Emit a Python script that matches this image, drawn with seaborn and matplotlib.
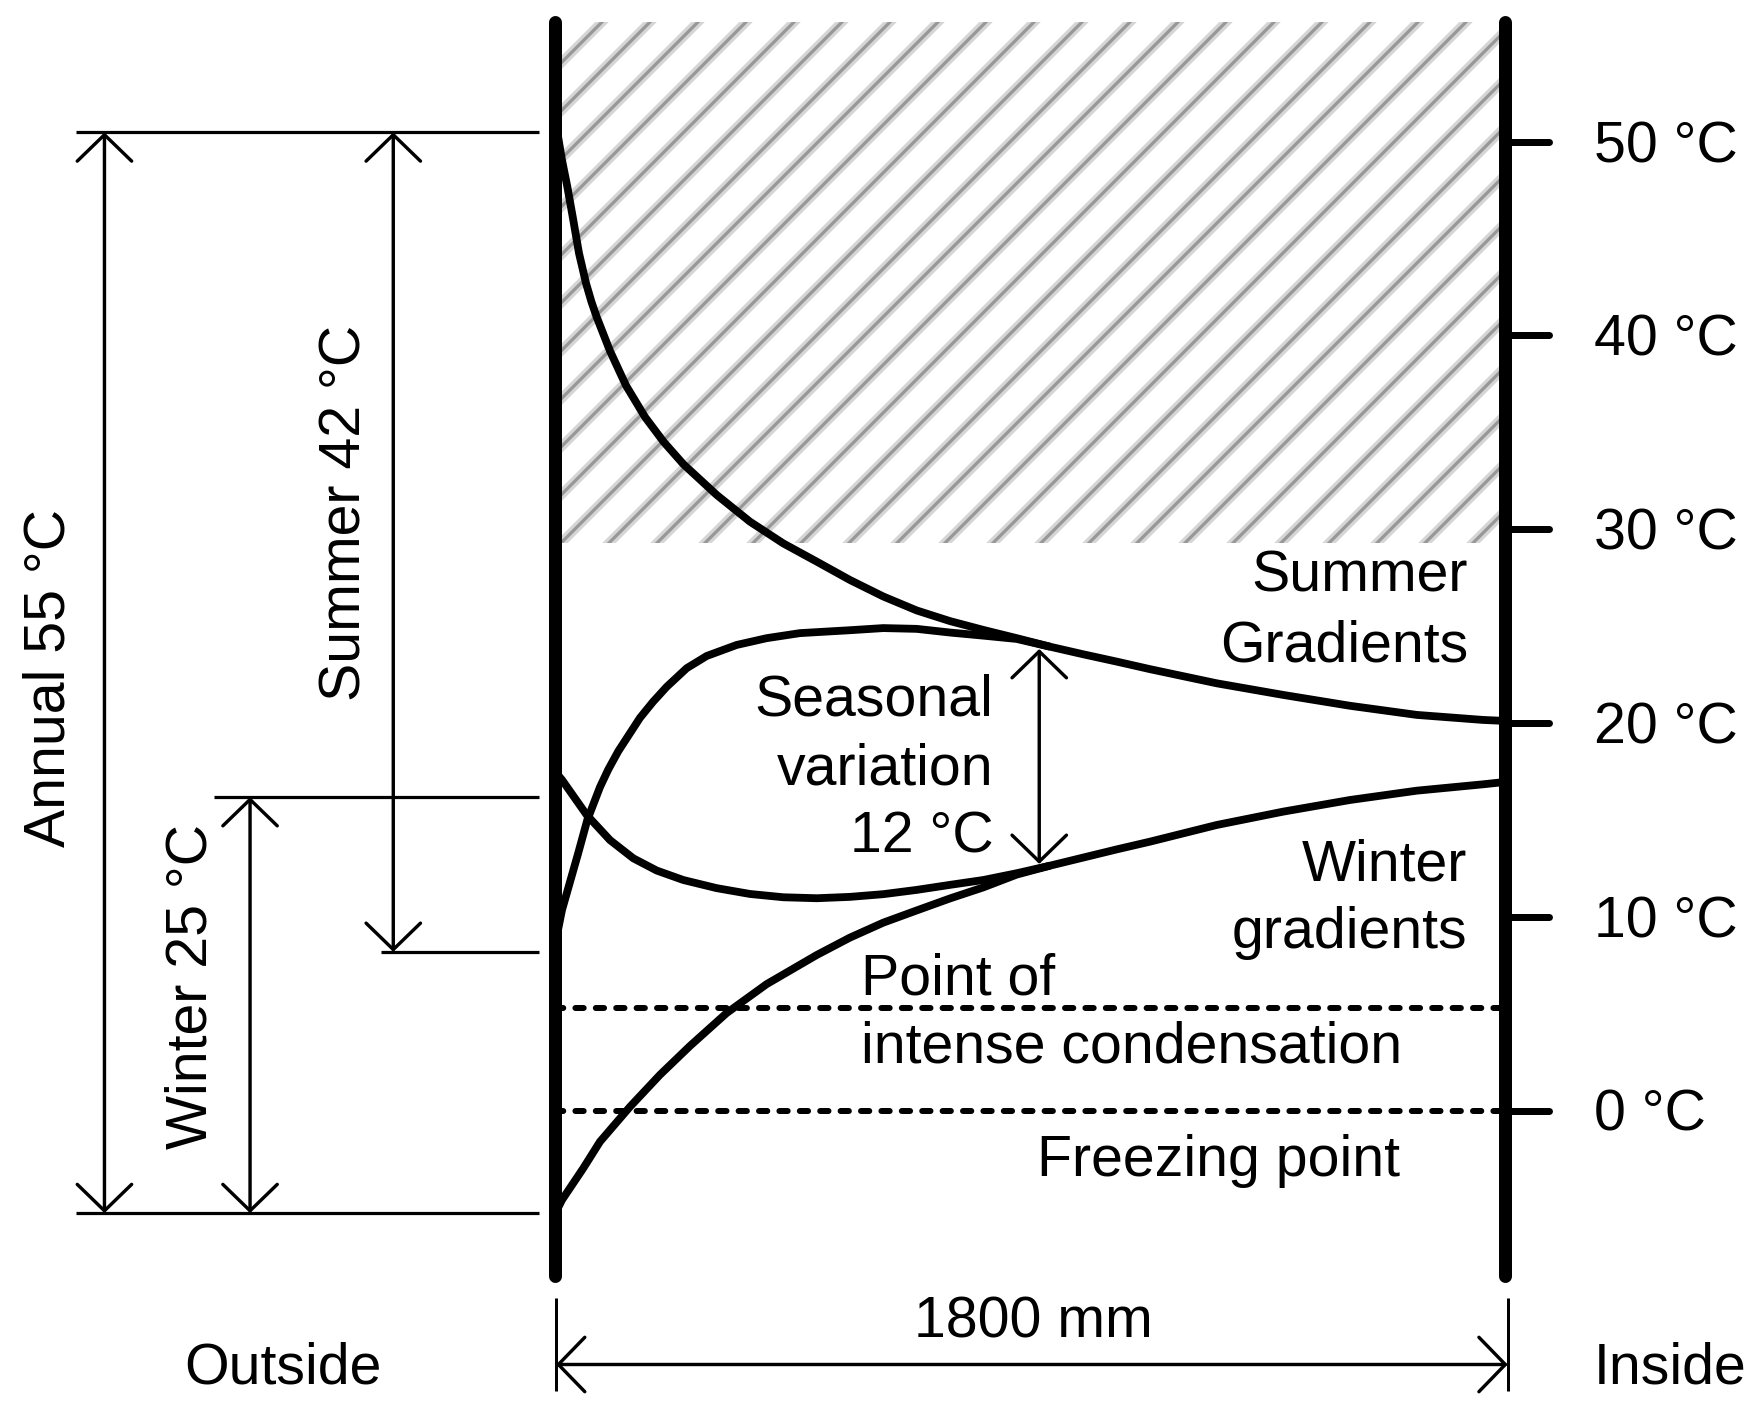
#!/usr/bin/env python3

import matplotlib
matplotlib.use("Agg")
import matplotlib.pyplot as plt
import pandas as pd
import seaborn as sns

sns.set_theme(style="white")
plt.rcParams["font.family"] = ["Liberation Sans", "DejaVu Sans"]
plt.rcParams["text.color"] = "black"

# wall distance in mm, temperature in degC
SUMMER_OUT_X = [2.8, 12.3, 22.4, 33.7, 44.5, 57.8, 68, 78.1, 103.3, 133.6, 169.7, 205, 242.3, 305.6, 368.7, 431.8,
                495.2, 558.3, 621.4, 684.7, 747.9, 810.4, 874.3, 937.4, 1000, 1063.9, 1127, 1253.5, 1379.7,
                1506.2, 1632.6, 1758.3, 1800]
SUMMER_OUT_T = [50.60, 49.05, 47.68, 45.96, 44.25, 42.70, 41.75, 40.95, 39.20, 37.42, 35.79, 34.51, 33.36, 31.77, 30.39, 29.27,
                28.33, 27.38, 26.53, 25.81, 25.26, 24.81, 24.38, 23.94, 23.55, 23.17, 22.78, 22.05, 21.45,
                20.89, 20.42, 20.16, 20.11]

SUMMER_IN_X = [1, 12.3, 43.2, 60.3, 84.4, 100, 119.1, 160.2, 185, 210.8, 248.7, 286.6, 343.5, 400.4, 463.5, 558.3,
               621.4, 684.7, 747.9, 811, 874.3, 937.4]
SUMMER_IN_T = [8.81, 10.35, 13.30, 15.00, 16.70, 17.60, 18.55, 20.27, 21.10, 21.87, 22.83, 23.46, 24.03, 24.38, 24.64, 24.79,
               24.90, 24.86, 24.67, 24.51, 24.34, 23.94]

WINTER_OUT_X = [0, 12.3, 59.1, 103.3, 147.5, 191.8, 242.3, 305.6, 368.7, 431.8, 495.2, 558.3, 621.4, 684.7,
                747.9, 811, 874.3, 937.4, 1000.6, 1063.9, 1127, 1253.5, 1379.7, 1506.2, 1632.6, 1758.9, 1800]
WINTER_OUT_T = [17.47, 17.07, 15.26, 13.96, 13.02, 12.39, 11.90, 11.48, 11.18, 11.01, 10.96, 11.03, 11.17, 11.39,
                11.65, 11.90, 12.25, 12.64, 13.06, 13.48, 13.88, 14.74, 15.43, 16.03, 16.51, 16.84, 16.96]

WINTER_IN_X = [0, 12.3, 52.7, 84.4, 141.2, 198.1, 255, 324.6, 400.4, 495.2, 558.3, 621.4, 684.7, 747.9, 811,
               874.3, 937.4]
WINTER_IN_T = [-5.28, -4.61, -2.97, -1.60, 0.20, 1.85, 3.34, 5.04, 6.53, 8.03, 8.93, 9.70, 10.33, 10.95, 11.52,
               12.18, 12.64]

TICK_TEMPS = [50, 40, 30, 20, 10, 0]
TICK_LABELS = ["50 °C", "40 °C", "30 °C", "20 °C", "10 °C", "0 °C"]
DOTTED_TEMPS = [5.32, 0]
WALLS_MM = [0, 1800]

# extent line levels: temperature, left end
EXTENT_T = [50.48, 16.18, 8.19, -5.29]
EXTENT_X = [-908, -647, -330, -908]


def load_curves():
    frames = []
    for name, xs, ts in [
        ("summer_out", SUMMER_OUT_X, SUMMER_OUT_T),
        ("summer_in", SUMMER_IN_X, SUMMER_IN_T),
        ("winter_out", WINTER_OUT_X, WINTER_OUT_T),
        ("winter_in", WINTER_IN_X, WINTER_IN_T),
    ]:
        frames.append(pd.DataFrame({"curve": name, "mm": xs, "temp": ts}))
    return pd.concat(frames, ignore_index=True)


def dim_arrow(ax, start, end):
    ax.annotate(
        "", xy=end, xytext=start,
        arrowprops=dict(arrowstyle="<->,head_length=6.6,head_width=6.8", color="black", lw=0.85,
                        shrinkA=0, shrinkB=0, mutation_scale=1),
    )


def main():
    fig = plt.figure(figsize=(1753 / 288, 1405 / 288), dpi=288)
    ax = fig.add_axes([0, 0, 1, 1])

    # hatch tile is one inch at 288 dpi, "//" gives the 48 px stripe spacing
    plt.rcParams["hatch.linewidth"] = 2.4
    ax.fill_between([0, 1796], 29.29, 56.15, facecolor="white", edgecolor="#d6d6d6", hatch="//", linewidth=0)
    plt.rcParams["hatch.linewidth"] = 0.8
    ax.fill_between([0, 1796], 29.29, 56.15, facecolor="none", edgecolor="#989898", hatch="//", linewidth=0)

    sns.lineplot(data=load_curves(), x="mm", y="temp", units="curve", estimator=None, sort=False,
                 color="black", lw=1.95, solid_joinstyle="round", solid_capstyle="butt", ax=ax)

    ax.hlines(DOTTED_TEMPS, 0, 1800, color="black", lw=1.5, linestyles=[(0, (1.38, 2.02))], capstyle="round")
    ax.vlines(WALLS_MM, -8.52, 56.15, color="black", lw=3.25, capstyle="round", zorder=4)
    ax.hlines(TICK_TEMPS, 1800, 1884, color="black", lw=1.75, capstyle="round")

    # dimension extent lines
    ax.hlines(EXTENT_T, EXTENT_X, -31, color="black", lw=0.8)
    ax.vlines([1, 1805], -14.47, -9.66, color="black", lw=0.75)

    dim_arrow(ax, (-855, 50.48), (-855, -5.29))
    dim_arrow(ax, (-307.5, 50.48), (-307.5, 8.19))
    dim_arrow(ax, (-579, 16.18), (-579, -5.29))
    dim_arrow(ax, (917, 23.82), (917, 12.73))
    dim_arrow(ax, (1, -13.1), (1805, -13.1))

    fs = 14.3
    for t, lab in zip(TICK_TEMPS, TICK_LABELS):
        ax.text(1968, t - 1.05, lab, fontsize=fs, ha="left", va="baseline")

    for x, y, s, ha in [
        (1730, 26.8, "Summer", "right"),
        (1730, 23.2, "Gradients", "right"),
        (830.6, 20.37, "Seasonal", "right"),
        (830.6, 16.83, "variation", "right"),
        (830.6, 13.3, "12 °C", "right"),
        (1727.6, 11.9, "Winter", "right"),
        (1727.6, 8.37, "gradients", "right"),
        (580, 6.0, "Point of", "left"),
        (580, 2.47, "intense condensation", "left"),
        (1600, -3.38, "Freezing point", "right"),
        (905, -11.7, "1800 mm", "center"),
        (-517, -14.07, "Outside", "center"),
        (1968, -14.07, "Inside", "left"),
    ]:
        ax.text(x, y, s, fontsize=fs, ha=ha, va="baseline")

    for x, y, s in [
        (-960, 22.3, "Annual 55 °C"),
        (-399, 30.82, "Summer 42 °C"),
        (-690, 6.4, "Winter 25 °C"),
    ]:
        ax.text(x, y, s, fontsize=fs, rotation=90, ha="center", va="center")

    ax.set_xlim(-1053, 2270)
    ax.set_ylim(-15.19, 57.31)
    ax.set_axis_off()

    fig.savefig("out.png", dpi=288, facecolor="white")
    plt.close(fig)


if __name__ == "__main__":
    main()
